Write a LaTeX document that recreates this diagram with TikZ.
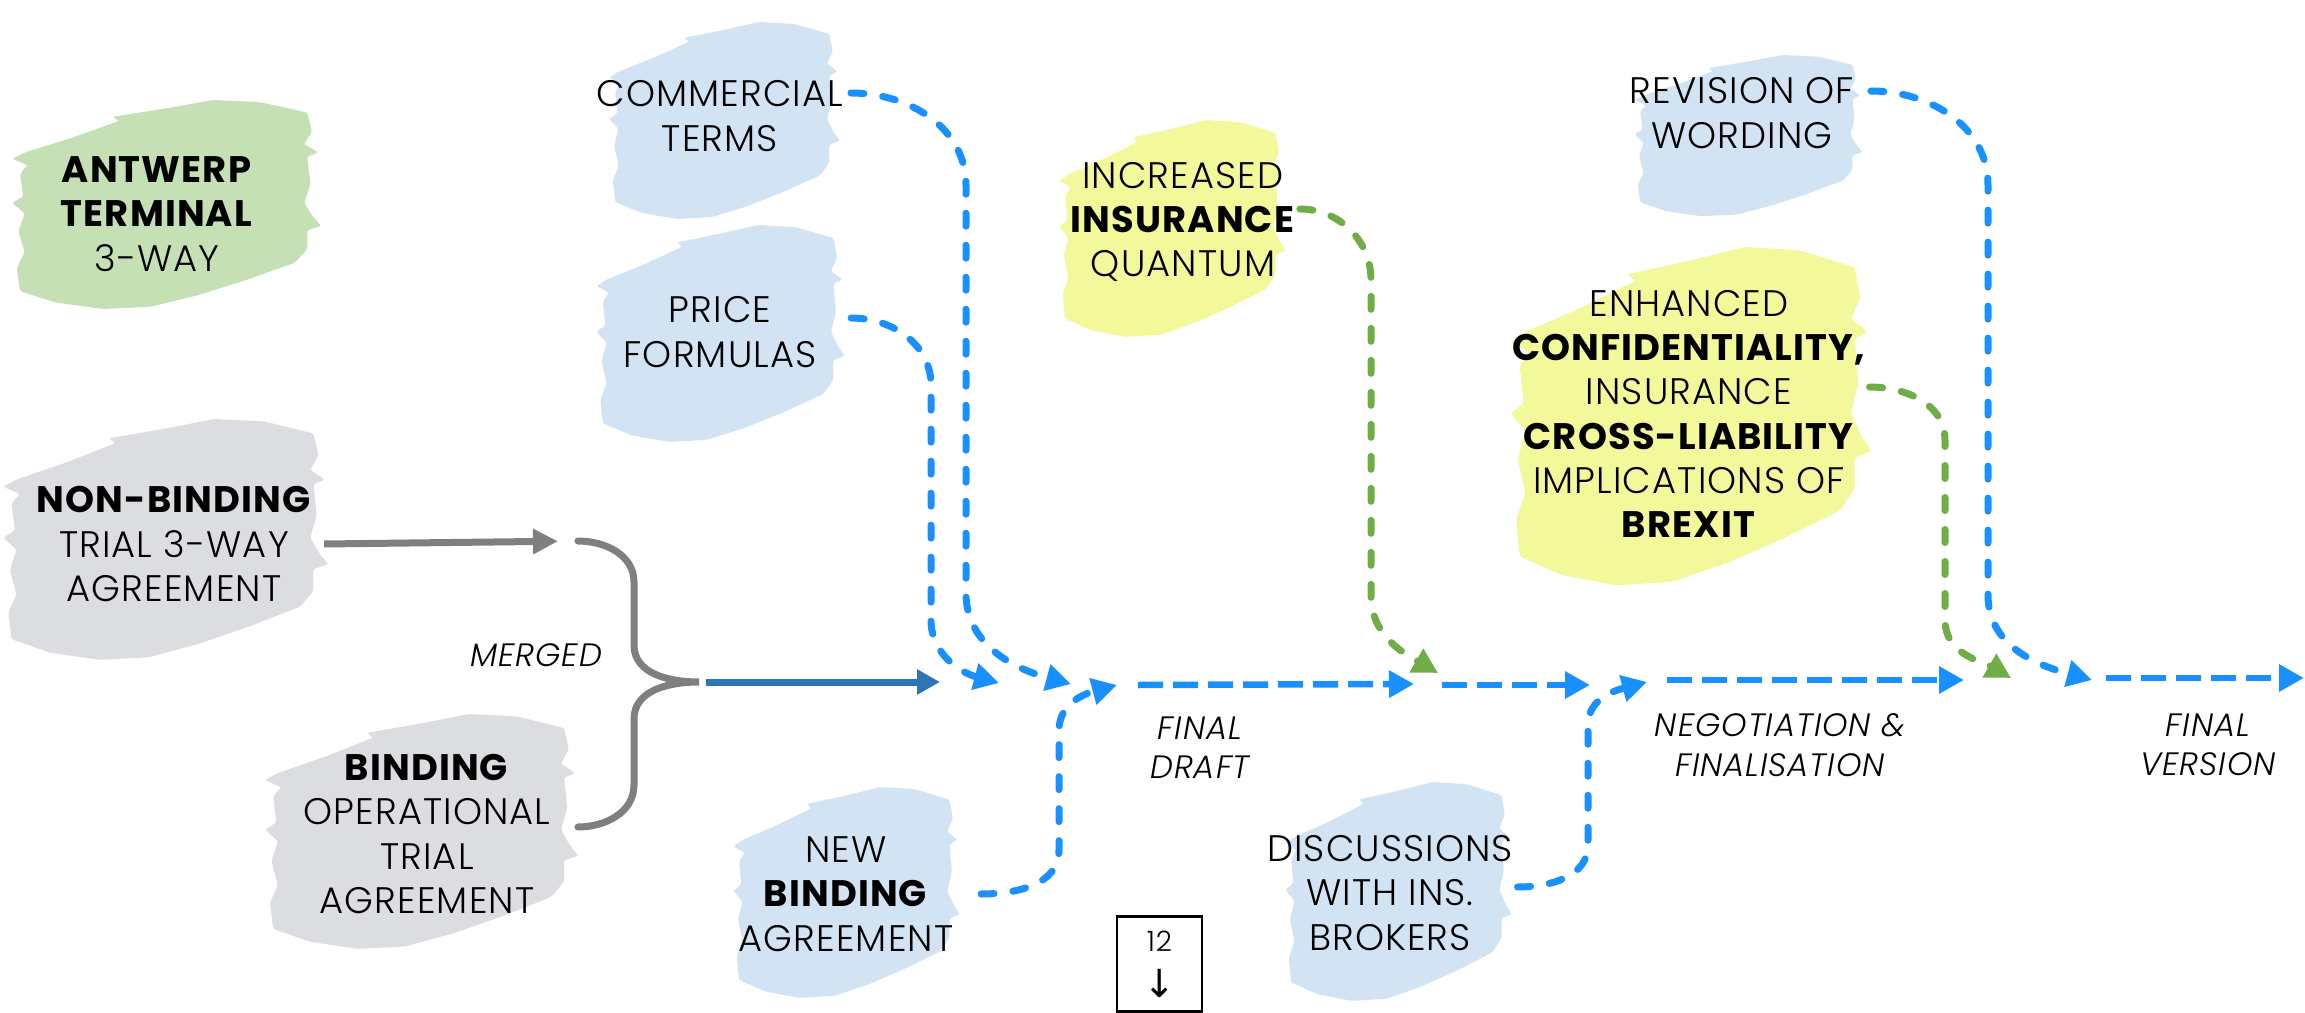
\documentclass[tikz,border=0pt]{standalone}
\usepackage{fontspec}
\IfFontExistsTF{Poppins Light}{%
  \setmainfont{Poppins}[UprightFont=* Light, ItalicFont=* Light Italic,
    BoldFont=* Bold, BoldItalicFont=* Bold Italic, LetterSpace=3]}{%
  \setmainfont{Poppins}[LetterSpace=3]}
\newfontfamily\symbolfont{DejaVu Sans}
\usepackage{xcolor}
\usepackage{tikz}
\usetikzlibrary{arrows.meta,calc}
\definecolor{flowblue}{HTML}{1890FF}
\definecolor{addgreen}{HTML}{70AD47}
\definecolor{solidblue}{HTML}{2E75B6}
\definecolor{mergegray}{HTML}{7F7F7F}
\definecolor{softblue}{HTML}{D2E3F4}
\definecolor{softgreen}{HTML}{C5E0B4}
\definecolor{softgray}{HTML}{DCDDE1}
\definecolor{softyellow}{HTML}{F3F89B}
% brush stroke behind a block: centre x, centre y, half width, half height, colour
\newcommand{\brushstroke}[5]{%
  \fill[#5, shift={(#1,#2)}, xscale=#3, yscale=#4, rounded corners=0.6pt]
    (-0.90,0.50) -- (-0.60,0.64) -- (-0.30,0.80) -- (-0.34,0.84) -- (0.00,0.92)
    -- (0.30,1.00) -- (0.60,0.98) -- (0.90,0.88) -- (0.93,0.70) -- (0.88,0.58)
    -- (0.97,0.50) -- (0.90,0.46) -- (0.92,0.20) -- (0.88,0.02) -- (0.94,-0.12)
    -- (0.99,-0.20) -- (0.90,-0.24) -- (0.90,-0.42) -- (0.82,-0.55) -- (0.50,-0.72)
    -- (0.20,-0.86) -- (-0.10,-0.97) -- (-0.40,-0.99) -- (-0.70,-0.93) -- (-0.93,-0.82)
    -- (-0.95,-0.60) -- (-0.90,-0.45) -- (-0.94,-0.25) -- (-0.90,-0.08) -- (-0.98,0.02)
    -- (-0.91,0.08) -- (-0.93,0.30) -- (-0.88,0.38) -- (-0.98,0.44) -- cycle;}
\tikzset{
  blobtext/.style={align=center, inner sep=0pt, font=\fontsize{10.5}{12.6}\selectfont},
  steptag/.style={align=center, inner sep=0pt, font=\fontsize{9.2}{11.2}\selectfont\itshape},
  pagebox/.style={draw, line width=0.6pt, minimum width=8.5mm, minimum height=9.5mm,
    inner sep=0pt, align=center, font=\fontsize{8}{10}\selectfont},
  draftflow/.style={draw=flowblue, line width=0.7mm, line cap=round,
    dash pattern=on 1.3mm off 1.9mm, -{Triangle[length=2.5mm,width=2.6mm]}},
  addflow/.style={draftflow, draw=addgreen},
  mainflow/.style={draw=flowblue, line width=0.65mm, dash pattern=on 2.5mm off 1.0mm,
    -{Triangle[length=2.5mm,width=2.6mm]}},
  mergeflow/.style={draw=mergegray, line width=0.7mm, -{Triangle[length=2.5mm,width=2.4mm]}},
  solidflow/.style={draw=solidblue, line width=0.7mm, -{Triangle[length=2.3mm,width=2.4mm]}},
  bracket/.style={draw=mergegray, line width=0.7mm, line cap=round}
}

\begin{document}
\begin{tikzpicture}[x=1cm,y=1cm]
  \useasboundingbox (0,0) rectangle (23.05,-10.13);

  % brush strokes
  \brushstroke{1.66}{-2.05}{1.57}{1.05}{softgreen}
  \brushstroke{1.65}{-5.40}{1.65}{1.21}{softgray}
  \brushstroke{4.21}{-8.32}{1.59}{1.18}{softgray}
  \brushstroke{7.24}{-1.21}{1.17}{0.99}{softblue}
  \brushstroke{7.20}{-3.34}{1.26}{1.09}{softblue}
  \brushstroke{8.46}{-8.93}{1.15}{1.06}{softblue}
  \brushstroke{11.72}{-2.29}{1.15}{1.09}{softyellow}
  \brushstroke{13.98}{-8.92}{1.15}{1.10}{softblue}
  \brushstroke{17.48}{-1.36}{1.16}{0.81}{softblue}
  \brushstroke{16.90}{-4.17}{1.83}{1.70}{softyellow}

  % blocks
  \node[blobtext] (antwerp) at (1.57,-2.14) {\textbf{ANTWERP}\\\textbf{TERMINAL}\\3-WAY};
  \node[blobtext] (nonbinding) at (1.74,-5.44) {\textbf{NON-BINDING}\\TRIAL 3-WAY\\AGREEMENT};
  \node[blobtext] (binding) at (4.27,-8.34) {\textbf{BINDING}\\OPERATIONAL\\TRIAL\\AGREEMENT};
  \node[blobtext] (commercial) at (7.20,-1.16) {COMMERCIAL\\TERMS};
  \node[blobtext] (price) at (7.20,-3.32) {PRICE\\FORMULAS};
  \node[blobtext] (newbinding) at (8.46,-8.94) {NEW\\\textbf{BINDING}\\AGREEMENT};
  \node[blobtext] (increased) at (11.83,-2.22) {INCREASED\\\textbf{INSURANCE}\\QUANTUM};
  \node[blobtext] (discussions) at (13.90,-8.93) {DISCUSSIONS\\WITH INS.\\BROKERS};
  \node[blobtext] (revision) at (17.42,-1.13) {REVISION OF\\WORDING};
  \node[blobtext] (enhanced) at (16.89,-4.14) {ENHANCED\\\textbf{CONFIDENTIALITY,}\\INSURANCE\\\textbf{CROSS-LIABILITY}\\IMPLICATIONS OF\\\textbf{BREXIT}};

  \node[steptag] (merged) at (5.36,-6.55) {MERGED};
  \node[steptag] (finaldraft) at (12.00,-7.48) {FINAL\\DRAFT};
  \node[steptag] (negotiation) at (17.80,-7.45) {NEGOTIATION \&\\FINALISATION};
  \node[steptag] (finalversion) at (22.08,-7.45) {FINAL\\VERSION};
  \node[pagebox] (page) at (11.595,-9.64) {12\\[3pt]{\symbolfont\fontsize{11}{11}\selectfont ↓}};

  % merge of the two trial agreements
  \coordinate (bracetop) at (5.78,-5.41);
  \coordinate (bracebot) at (5.78,-8.27);
  \coordinate (bracetip) at (6.99,-6.82);
  \draw[mergeflow, shorten >=2mm] ([xshift=1.2mm]nonbinding.east) -- (bracetop);
  \draw[bracket] (bracetop) to[out=0,in=90] (6.34,-5.82) -- (6.34,-6.45) to[out=-90,in=180] (bracetip)
    to[out=180,in=90] (6.34,-7.19) -- (6.34,-7.85) to[out=-90,in=0] (bracebot);

  % main line
  \coordinate (solidend) at (9.40,-6.82);
  \coordinate (priceend) at (9.99,-6.83);
  \coordinate (commend) at (10.71,-6.84);
  \coordinate (newend) at (11.17,-6.85);
  \coordinate (draftstart) at (11.38,-6.85);
  \coordinate (draftend) at (14.14,-6.84);
  \coordinate (quantumend) at (14.38,-6.73);
  \coordinate (midstart) at (14.42,-6.85);
  \coordinate (midend) at (15.90,-6.85);
  \coordinate (brokerend) at (16.47,-6.82);
  \coordinate (negstart) at (16.67,-6.80);
  \coordinate (negend) at (19.64,-6.80);
  \coordinate (brexitend) at (20.11,-6.78);
  \coordinate (wordingend) at (20.92,-6.80);
  \coordinate (finalstart) at (21.06,-6.78);
  \coordinate (finalend) at (23.04,-6.78);

  \draw[solidflow] ([xshift=0.7mm]bracetip) -- (solidend);
  \draw[mainflow] (draftstart) -- (draftend);
  \draw[mainflow] (midstart) -- (midend);
  \draw[mainflow] (negstart) -- (negend);
  \draw[mainflow] (finalstart) -- (finalend);

  % inputs joining the main line
  \draw[draftflow] ([xshift=3.4mm,yshift=1.4mm]price.east) to[out=0,in=90] (9.31,-3.85)
    -- (9.31,-6.20) to[out=-90,in=165] (priceend);
  \draw[draftflow] ([xshift=0.7mm,yshift=2.3mm]commercial.east) to[out=0,in=90] (9.66,-1.85)
    -- (9.66,-5.93) to[out=-90,in=165] (commend);
  \draw[draftflow] ([xshift=2.7mm]newbinding.east) to[out=0,in=-90] (10.59,-8.50)
    -- (10.59,-7.30) to[out=90,in=195] (newend);
  \draw[addflow] ([xshift=0.4mm,yshift=1.3mm]increased.east) to[out=0,in=90] (13.71,-2.80)
    -- (13.71,-5.95) to[out=-90,in=150] (quantumend);
  \draw[draftflow] ([xshift=0.4mm,yshift=0.6mm]discussions.east) to[out=0,in=-90] (15.88,-8.45)
    -- (15.88,-7.25) to[out=90,in=195] (brokerend);
  \draw[addflow] ([xshift=0.3mm,yshift=2.7mm]enhanced.east) to[out=0,in=90] (19.45,-4.40)
    -- (19.45,-6.20) to[out=-90,in=150] (brexitend);
  \draw[draftflow] ([xshift=1.6mm,yshift=2.2mm]revision.east) to[out=0,in=90] (19.88,-1.85)
    -- (19.88,-5.95) to[out=-90,in=165] (wordingend);
\end{tikzpicture}
\end{document}
